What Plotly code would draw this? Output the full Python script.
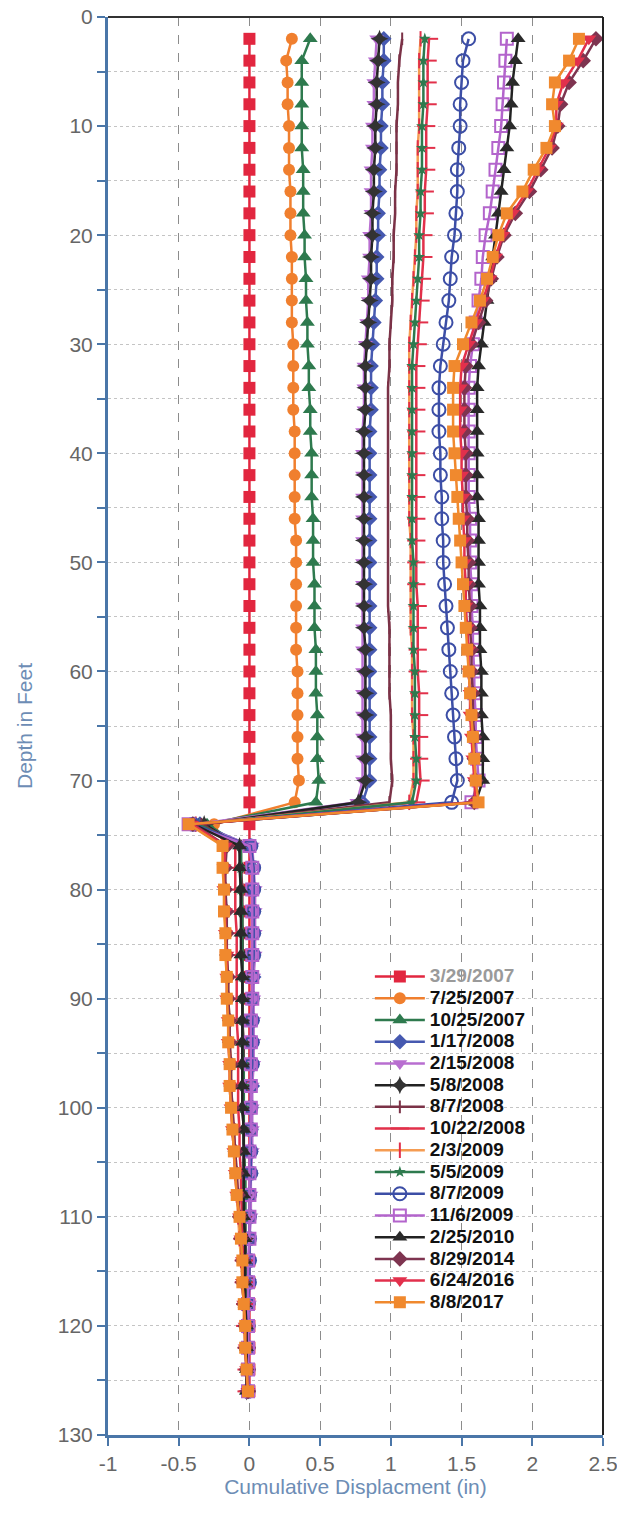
import plotly.graph_objects as go

depth = [2, 4, 6, 8, 10, 12, 14, 16, 18, 20, 22, 24, 26, 28, 30, 32, 34, 36, 38, 40, 42, 44, 46, 48, 50,
         52, 54, 56, 58, 60, 62, 64, 66, 68, 70, 72, 74, 76, 78, 80, 82, 84, 86, 88, 90, 92, 94, 96, 98,
         100, 102, 104, 106, 108, 110, 112, 114, 116, 118, 120, 122, 124, 126]

d_2007_03_29 = [0.00, 0.00, 0.00, 0.00, 0.00, 0.00, 0.00, 0.00, 0.00, 0.00, 0.00, 0.00, 0.00, 0.00, 0.00, 0.00, 0.00, 0.00,
                0.00, 0.00, 0.00, 0.00, 0.00, 0.00, 0.00, 0.00, 0.00, 0.00, 0.00, 0.00, 0.00, 0.00, 0.00, 0.00, 0.00, 0.00,
                0.00, 0.00, 0.00, 0.00, 0.00, 0.00, 0.00, 0.00, 0.00, 0.00, 0.00, 0.00, 0.00, 0.00, 0.00, 0.00, 0.00, 0.00,
                0.00, 0.00, 0.00, 0.00, 0.00, 0.00, 0.00, 0.00, 0.00]
d_2007_07_25 = [0.30, 0.26, 0.27, 0.27, 0.28, 0.28, 0.28, 0.29, 0.29, 0.29, 0.30, 0.30, 0.30, 0.30, 0.31, 0.31, 0.31, 0.31,
                0.32, 0.32, 0.32, 0.32, 0.32, 0.33, 0.33, 0.33, 0.33, 0.33, 0.33, 0.34, 0.34, 0.34, 0.34, 0.34, 0.35, 0.32,
                -0.25, -0.17, -0.18, -0.17, -0.17, -0.16, -0.16, -0.15, -0.15, -0.14, -0.14, -0.13, -0.13, -0.12, -0.11, -0.10, -0.09, -0.08,
                -0.07, -0.06, -0.05, -0.05, -0.04, -0.03, -0.03, -0.02, -0.01]
d_2007_10_25 = [0.43, 0.37, 0.37, 0.37, 0.37, 0.37, 0.38, 0.38, 0.38, 0.39, 0.39, 0.40, 0.40, 0.41, 0.41, 0.42, 0.42, 0.43,
                0.43, 0.44, 0.44, 0.44, 0.45, 0.45, 0.45, 0.46, 0.46, 0.46, 0.47, 0.47, 0.47, 0.48, 0.48, 0.48, 0.49, 0.47,
                -0.30, -0.06, -0.06, -0.06, -0.06, -0.05, -0.05, -0.05, -0.05, -0.05, -0.05, -0.05, -0.04, -0.04, -0.04, -0.04, -0.04, -0.04,
                -0.03, -0.03, -0.03, -0.03, -0.03, -0.02, -0.02, -0.02, -0.02]
d_2008_01_17 = [0.95, 0.95, 0.94, 0.94, 0.93, 0.93, 0.92, 0.92, 0.91, 0.91, 0.90, 0.90, 0.89, 0.88, 0.87, 0.86, 0.86, 0.86,
                0.85, 0.85, 0.85, 0.85, 0.85, 0.85, 0.85, 0.85, 0.85, 0.85, 0.85, 0.85, 0.85, 0.85, 0.85, 0.85, 0.85, 0.80,
                -0.35, 0.01, 0.02, 0.02, 0.03, 0.03, 0.03, 0.03, 0.02, 0.02, 0.02, 0.02, 0.02, 0.01, 0.01, 0.01, 0.01, 0.00,
                0.00, 0.00, 0.00, -0.01, -0.01, -0.01, -0.01, -0.01, -0.01]
d_2008_02_15 = [0.90, 0.89, 0.88, 0.88, 0.87, 0.87, 0.86, 0.86, 0.86, 0.85, 0.85, 0.84, 0.84, 0.83, 0.82, 0.81, 0.81, 0.81,
                0.80, 0.80, 0.80, 0.80, 0.80, 0.80, 0.80, 0.80, 0.80, 0.80, 0.80, 0.80, 0.80, 0.80, 0.80, 0.80, 0.80, 0.76,
                -0.38, 0.02, 0.03, 0.04, 0.04, 0.04, 0.04, 0.03, 0.03, 0.03, 0.03, 0.03, 0.02, 0.02, 0.02, 0.02, 0.01, 0.01,
                0.01, 0.00, 0.00, 0.00, 0.00, -0.01, -0.01, -0.01, -0.01]
d_2008_05_08 = [0.92, 0.91, 0.90, 0.90, 0.89, 0.89, 0.88, 0.88, 0.87, 0.87, 0.86, 0.86, 0.85, 0.84, 0.83, 0.82, 0.82, 0.82,
                0.81, 0.81, 0.81, 0.81, 0.81, 0.81, 0.81, 0.81, 0.81, 0.81, 0.82, 0.82, 0.82, 0.82, 0.82, 0.82, 0.82, 0.77,
                -0.32, -0.07, -0.06, -0.06, -0.06, -0.05, -0.05, -0.05, -0.05, -0.05, -0.05, -0.05, -0.05, -0.05, -0.04, -0.04, -0.04, -0.04,
                -0.04, -0.03, -0.03, -0.03, -0.03, -0.03, -0.02, -0.02, -0.02]
d_2008_08_07 = [1.08, 1.06, 1.05, 1.05, 1.04, 1.04, 1.04, 1.03, 1.03, 1.02, 1.02, 1.01, 1.01, 1.00, 0.99, 0.99, 0.98, 0.98,
                0.98, 0.98, 0.98, 0.98, 0.98, 0.98, 0.98, 0.98, 0.98, 0.99, 0.99, 0.99, 0.99, 1.00, 1.00, 1.00, 1.01, 0.99,
                -0.34, -0.06, -0.06, -0.05, -0.05, -0.05, -0.05, -0.05, -0.05, -0.05, -0.04, -0.04, -0.04, -0.04, -0.04, -0.04, -0.03, -0.03,
                -0.03, -0.03, -0.03, -0.02, -0.02, -0.02, -0.02, -0.02, -0.02]
d_2008_10_22 = [1.27, 1.26, 1.26, 1.26, 1.25, 1.25, 1.25, 1.24, 1.24, 1.23, 1.23, 1.22, 1.21, 1.20, 1.19, 1.18, 1.18, 1.18,
                1.18, 1.18, 1.18, 1.18, 1.18, 1.18, 1.18, 1.18, 1.19, 1.19, 1.19, 1.19, 1.20, 1.20, 1.20, 1.20, 1.21, 1.18,
                -0.36, -0.10, -0.10, -0.10, -0.10, -0.09, -0.09, -0.09, -0.09, -0.09, -0.08, -0.08, -0.08, -0.08, -0.07, -0.07, -0.06, -0.06,
                -0.05, -0.05, -0.04, -0.04, -0.03, -0.03, -0.02, -0.02, -0.02]
d_2009_02_03 = [1.21, 1.20, 1.20, 1.20, 1.20, 1.19, 1.19, 1.19, 1.18, 1.18, 1.17, 1.16, 1.15, 1.14, 1.13, 1.13, 1.13, 1.13,
                1.13, 1.13, 1.13, 1.13, 1.13, 1.14, 1.14, 1.14, 1.14, 1.14, 1.15, 1.15, 1.15, 1.15, 1.16, 1.16, 1.16, 1.13,
                -0.38, -0.18, -0.18, -0.17, -0.17, -0.17, -0.16, -0.16, -0.15, -0.15, -0.14, -0.14, -0.13, -0.13, -0.12, -0.11, -0.10, -0.09,
                -0.08, -0.07, -0.06, -0.05, -0.04, -0.04, -0.03, -0.02, -0.02]
d_2009_05_05 = [1.24, 1.23, 1.23, 1.23, 1.22, 1.22, 1.22, 1.21, 1.21, 1.20, 1.20, 1.19, 1.18, 1.17, 1.16, 1.15, 1.15, 1.15,
                1.15, 1.15, 1.15, 1.15, 1.15, 1.15, 1.16, 1.16, 1.16, 1.16, 1.16, 1.17, 1.17, 1.17, 1.17, 1.18, 1.18, 1.15,
                -0.36, -0.06, -0.06, -0.06, -0.05, -0.05, -0.05, -0.05, -0.05, -0.05, -0.05, -0.04, -0.04, -0.04, -0.04, -0.04, -0.03, -0.03,
                -0.03, -0.03, -0.03, -0.02, -0.02, -0.02, -0.02, -0.02, -0.01]
d_2009_08_07 = [1.55, 1.51, 1.50, 1.49, 1.49, 1.48, 1.47, 1.47, 1.46, 1.45, 1.43, 1.42, 1.41, 1.39, 1.37, 1.35, 1.34, 1.34,
                1.34, 1.35, 1.35, 1.36, 1.36, 1.37, 1.37, 1.38, 1.39, 1.40, 1.41, 1.42, 1.43, 1.44, 1.45, 1.46, 1.47, 1.43,
                -0.40, 0.01, 0.03, 0.03, 0.03, 0.03, 0.03, 0.02, 0.02, 0.02, 0.02, 0.02, 0.01, 0.01, 0.01, 0.01, 0.01, 0.00,
                0.00, 0.00, 0.00, 0.00, -0.01, -0.01, -0.01, -0.01, -0.01]
d_2009_11_06 = [1.82, 1.81, 1.80, 1.79, 1.78, 1.76, 1.74, 1.72, 1.70, 1.67, 1.65, 1.64, 1.62, 1.60, 1.58, 1.56, 1.55, 1.55,
                1.55, 1.55, 1.55, 1.55, 1.56, 1.56, 1.56, 1.57, 1.57, 1.58, 1.58, 1.59, 1.59, 1.60, 1.60, 1.61, 1.62, 1.57,
                -0.43, 0.00, 0.02, 0.02, 0.02, 0.02, 0.02, 0.02, 0.02, 0.01, 0.01, 0.01, 0.01, 0.01, 0.01, 0.00, 0.00, 0.00,
                0.00, 0.00, -0.01, -0.01, -0.01, -0.01, -0.01, -0.01, -0.01]
d_2010_02_25 = [1.90, 1.88, 1.86, 1.85, 1.84, 1.82, 1.80, 1.78, 1.76, 1.74, 1.72, 1.70, 1.68, 1.66, 1.64, 1.62, 1.61, 1.61,
                1.61, 1.61, 1.61, 1.61, 1.62, 1.62, 1.62, 1.62, 1.63, 1.63, 1.63, 1.64, 1.64, 1.64, 1.65, 1.65, 1.65, 1.60,
                -0.40, -0.07, -0.07, -0.06, -0.06, -0.06, -0.06, -0.05, -0.05, -0.05, -0.05, -0.05, -0.05, -0.05, -0.04, -0.04, -0.04, -0.04,
                -0.04, -0.03, -0.03, -0.03, -0.03, -0.02, -0.02, -0.02, -0.02]
d_2014_08_29 = [2.45, 2.36, 2.26, 2.20, 2.18, 2.14, 2.06, 1.98, 1.88, 1.80, 1.75, 1.71, 1.67, 1.62, 1.57, 1.53, 1.52, 1.52,
                1.52, 1.53, 1.53, 1.53, 1.54, 1.54, 1.55, 1.55, 1.56, 1.56, 1.57, 1.57, 1.58, 1.58, 1.59, 1.59, 1.60, 1.59,
                -0.40, -0.16, -0.17, -0.17, -0.16, -0.16, -0.16, -0.15, -0.15, -0.14, -0.14, -0.13, -0.13, -0.12, -0.11, -0.10, -0.09, -0.08,
                -0.07, -0.06, -0.05, -0.05, -0.04, -0.03, -0.03, -0.02, -0.01]
d_2016_06_24 = [2.40, 2.32, 2.22, 2.17, 2.17, 2.12, 2.04, 1.96, 1.86, 1.79, 1.74, 1.70, 1.65, 1.60, 1.55, 1.50, 1.49, 1.49,
                1.49, 1.50, 1.50, 1.51, 1.51, 1.52, 1.52, 1.53, 1.53, 1.54, 1.55, 1.55, 1.56, 1.56, 1.57, 1.58, 1.59, 1.60,
                -0.41, -0.17, -0.18, -0.18, -0.17, -0.17, -0.16, -0.16, -0.16, -0.15, -0.15, -0.14, -0.14, -0.13, -0.12, -0.11, -0.10, -0.09,
                -0.07, -0.06, -0.05, -0.05, -0.04, -0.03, -0.03, -0.02, -0.01]
d_2017_08_08 = [2.33, 2.26, 2.16, 2.14, 2.16, 2.10, 2.01, 1.93, 1.82, 1.76, 1.72, 1.68, 1.63, 1.57, 1.51, 1.45, 1.44, 1.44,
                1.44, 1.45, 1.46, 1.47, 1.48, 1.49, 1.50, 1.51, 1.52, 1.53, 1.54, 1.55, 1.56, 1.57, 1.58, 1.59, 1.60, 1.62,
                -0.43, -0.19, -0.19, -0.18, -0.18, -0.17, -0.17, -0.16, -0.16, -0.15, -0.15, -0.14, -0.14, -0.13, -0.12, -0.11, -0.10, -0.09,
                -0.07, -0.06, -0.05, -0.05, -0.04, -0.03, -0.03, -0.02, -0.01]

x_ticks = [-1, -0.5, 0, 0.5, 1, 1.5, 2, 2.5]
x_tick_text = ["-1", "-0.5", "0", "0.5", "1", "1.5", "2", "2.5"]
y_ticks = [0, 10, 20, 30, 40, 50, 60, 70, 80, 90, 100, 110, 120, 130]

# (label, values, line color, marker symbol, marker size, marker color, label color)
series = [
    ("3/29/2007", d_2007_03_29, "#e2263f", "square", 12, "#e2263f", "#9a9a9a"),
    ("7/25/2007", d_2007_07_25, "#f07f2e", "circle", 12, "#f07f2e", "#111111"),
    ("10/25/2007", d_2007_10_25, "#2e7a4e", "triangle-up", 13, "#2e7a4e", "#111111"),
    ("1/17/2008", d_2008_01_17, "#4659b0", "diamond", 12, "#4659b0", "#111111"),
    ("2/15/2008", d_2008_02_15, "#b86ed0", "triangle-down", 13, "#b86ed0", "#111111"),
    ("5/8/2008", d_2008_05_08, "#222222", "star-diamond", 13, "#333333", "#111111"),
    ("8/7/2008", d_2008_08_07, "#7b3247", "line-ns-open", 9, "#7b3247", "#111111"),
    ("10/22/2008", d_2008_10_22, "#e2304a", "line-ew-open", 13, "#e2304a", "#111111"),
    ("2/3/2009", d_2009_02_03, "#f59c52", "line-ns-open", 11, "#e2304a", "#111111"),
    ("5/5/2009", d_2009_05_05, "#2e7a4e", "star", 9, "#2e7a4e", "#111111"),
    ("8/7/2009", d_2009_08_07, "#3c4ea6", "circle-open", 13, "#3c4ea6", "#111111"),
    ("11/6/2009", d_2009_11_06, "#b364cc", "square-open", 12, "#b364cc", "#111111"),
    ("2/25/2010", d_2010_02_25, "#222222", "triangle-up", 13, "#2a2a2a", "#111111"),
    ("8/29/2014", d_2014_08_29, "#7e3450", "diamond", 12, "#7e3450", "#111111"),
    ("6/24/2016", d_2016_06_24, "#e2304c", "triangle-down", 13, "#e2304c", "#111111"),
    ("8/8/2017", d_2017_08_08, "#f0892e", "square", 12, "#f0892e", "#111111"),
]

fig = go.Figure()
for label, vals, lc, sym, ms, mc, tc in series:
    is_open = sym.endswith("-open")
    fig.add_trace(go.Scatter(
        x=vals, y=depth, mode="lines+markers",
        name='<span style="font-size:19px;color:%s">%s</span>' % (tc, label),
        line=dict(color=lc, width=2.5),
        marker=dict(symbol=sym, size=ms, color=mc,
                    line=dict(color=mc, width=2 if is_open else 0)),
    ))

axis_blue = "#4a76a8"
title_blue = "#6d8db5"

fig.update_layout(
    width=617, height=1516,
    margin=dict(l=108, r=14, t=17, b=81),
    paper_bgcolor="white", plot_bgcolor="white",
    font=dict(family="Liberation Sans, Arial, sans-serif"),
    showlegend=True,
    legend=dict(
        x=0.529, y=0.3345, xanchor="left", yanchor="top",
        bgcolor="rgba(255,255,255,0)",
        font=dict(size=14.4, color="#111111", weight="bold"),
        itemwidth=50, tracegroupgap=0,
    ),
    xaxis=dict(
        range=[-1, 2.5], tickvals=x_ticks, ticktext=x_tick_text,
        automargin=False, ticklabeloverflow="allow",
        ticks="outside", ticklen=8, tickwidth=2, tickcolor=axis_blue,
        showline=True, linecolor=axis_blue, linewidth=3,
        showgrid=True, gridcolor="#8c8c8c", griddash="dash", gridwidth=1,
        zeroline=False,
        tickfont=dict(size=21, color="#666666"),
        title=dict(text="Cumulative Displacment (in)", font=dict(size=21, color=title_blue), standoff=4),
    ),
    yaxis=dict(
        range=[130, 0], tickvals=y_ticks,
        automargin=False, ticklabeloverflow="allow",
        ticks="outside", ticklen=8, tickwidth=2, tickcolor=axis_blue,
        showline=True, linecolor=axis_blue, linewidth=3,
        showgrid=True, gridcolor="#c4c4c4", griddash="dot", gridwidth=1,
        zeroline=False,
        minor=dict(dtick=5, ticks="outside", ticklen=8, tickwidth=2, tickcolor=axis_blue,
                   showgrid=True, gridcolor="#c4c4c4", griddash="dot"),
        tickfont=dict(size=21, color="#666666"),
        title=dict(text="Depth in Feet", font=dict(size=21, color=title_blue), standoff=20),
    ),
    shapes=[
        dict(type="line", xref="paper", yref="paper", x0=0, x1=1, y0=1, y1=1,
             line=dict(color="#333333", width=2)),
        dict(type="line", xref="paper", yref="paper", x0=1, x1=1, y0=0, y1=1,
             line=dict(color="#222222", width=2)),
    ],
)

fig.write_html("out.html", config={"displayModeBar": False},
               post_script="document.body.style.margin='0px';")
